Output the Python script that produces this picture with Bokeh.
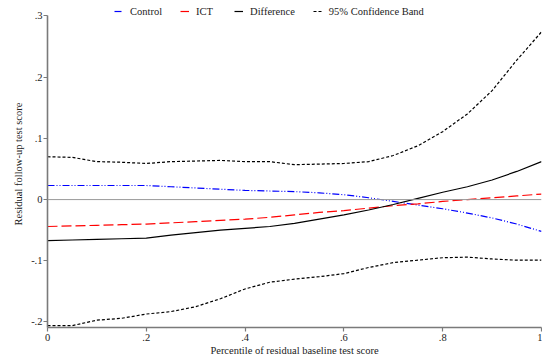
from bokeh.plotting import figure
from bokeh.models import Range1d, FixedTicker, Span, Legend, LegendItem
from bokeh.embed import file_html
from bokeh.resources import INLINE

# Percentile grid of residual baseline test score
pct = [0.00, 0.05, 0.10, 0.15, 0.20, 0.25, 0.30, 0.35, 0.40, 0.45, 0.50,
       0.55, 0.60, 0.65, 0.70, 0.75, 0.80, 0.85, 0.90, 0.95, 1.00]

# Smoothed residual follow-up test score by group
control = [0.023, 0.023, 0.023, 0.023, 0.023, 0.021, 0.019, 0.017, 0.015, 0.014, 0.013,
           0.011, 0.008, 0.003, -0.003, -0.009, -0.015, -0.022, -0.030, -0.040, -0.052]
ict = [-0.044, -0.043, -0.042, -0.041, -0.040, -0.038, -0.036, -0.034, -0.032, -0.029, -0.025,
       -0.021, -0.018, -0.014, -0.010, -0.007, -0.003, 0.000, 0.003, 0.006, 0.009]
difference = [-0.067, -0.066, -0.065, -0.064, -0.063, -0.058, -0.054, -0.050, -0.047, -0.044, -0.039,
              -0.032, -0.025, -0.017, -0.008, 0.002, 0.012, 0.021, 0.032, 0.046, 0.062]

# 95% confidence band around the difference
ci_upper = [0.070, 0.069, 0.062, 0.061, 0.059, 0.062, 0.063, 0.064, 0.062, 0.062, 0.057,
            0.058, 0.059, 0.062, 0.072, 0.088, 0.111, 0.140, 0.178, 0.228, 0.274]
ci_lower = [-0.206, -0.206, -0.197, -0.194, -0.187, -0.183, -0.175, -0.162, -0.146, -0.135, -0.130,
            -0.126, -0.121, -0.111, -0.103, -0.099, -0.095, -0.094, -0.097, -0.099, -0.099]

x_ticks = [0, 0.2, 0.4, 0.6, 0.8, 1.0]
x_tick_labels = ["0", ".2", ".4", ".6", ".8", "1"]
y_ticks = [-0.2, -0.1, 0, 0.1, 0.2, 0.3]
y_tick_labels = ["-.2", "-.1", "0", ".1", ".2", ".3"]

FONT = "Liberation Serif"
AXIS_GREY = "#7a7a7a"
TEXT = "#222222"

Y_LOW = -0.209
Y_HIGH = 0.3253   # headroom above the top tick for the legend row

p = figure(frame_width=494, frame_height=327,
           x_range=Range1d(0, 1), y_range=Range1d(Y_LOW, Y_HIGH),
           output_backend="svg", toolbar_location=None,
           min_border_left=47, min_border_right=1,
           min_border_top=0, min_border_bottom=31,
           background_fill_color="white", border_fill_color="white")
p.outline_line_color = None
p.grid.visible = False

# zero reference line
p.add_layout(Span(location=0, dimension="width", line_color="#999999", line_width=1))

r_ctrl = p.line(pct, control, line_color="blue", line_width=1.2, line_dash="7 2 1 2 1 2")
r_ict = p.line(pct, ict, line_color="red", line_width=1.2, line_dash="10 4")
r_diff = p.line(pct, difference, line_color="black", line_width=1.2)
r_up = p.line(pct, ci_upper, line_color="black", line_width=1.2, line_dash="3 2")
r_lo = p.line(pct, ci_lower, line_color="black", line_width=1.2, line_dash="3 2")

for ax in (p.xaxis[0], p.yaxis[0]):
    ax.axis_line_color = AXIS_GREY
    ax.axis_line_width = 1.6
    ax.major_tick_line_color = AXIS_GREY
    ax.major_tick_line_width = 1.2
    ax.major_tick_out = 4
    ax.major_tick_in = 0
    ax.minor_tick_line_color = None
    ax.major_label_text_font = FONT
    ax.major_label_text_font_size = "10.5px"
    ax.major_label_text_color = TEXT
    ax.axis_label_text_font = FONT
    ax.axis_label_text_font_size = "10.5px"
    ax.axis_label_text_font_style = "normal"
    ax.axis_label_text_color = TEXT

p.xaxis.ticker = FixedTicker(ticks=x_ticks)
p.xaxis.major_label_overrides = dict(zip(x_ticks, x_tick_labels))
p.xaxis.axis_label = "Percentile of residual baseline test score"
p.xaxis.major_label_standoff = 2
p.xaxis.axis_label_standoff = 1

p.yaxis.ticker = FixedTicker(ticks=y_ticks)
p.yaxis.major_label_overrides = dict(zip(y_ticks, y_tick_labels))
p.yaxis.axis_label = "Residual follow-up test score"
p.yaxis.major_label_standoff = 1
p.yaxis.axis_label_standoff = 4
p.yaxis.bounds = (Y_LOW, max(y_ticks))

legend = Legend(items=[
    LegendItem(label="Control", renderers=[r_ctrl]),
    LegendItem(label="ICT", renderers=[r_ict]),
    LegendItem(label="Difference", renderers=[r_diff]),
    LegendItem(label="95% Confidence Band", renderers=[r_up]),
], orientation="horizontal", location=(67, 310),
    glyph_width=9, glyph_height=10, label_standoff=7, spacing=18,
    padding=0, margin=0, border_line_color=None, background_fill_alpha=0,
    label_text_font=FONT, label_text_font_size="10.5px", label_text_color=TEXT,
    label_height=12)
p.add_layout(legend, "center")

open("out.html", "w").write(file_html(p, INLINE))
